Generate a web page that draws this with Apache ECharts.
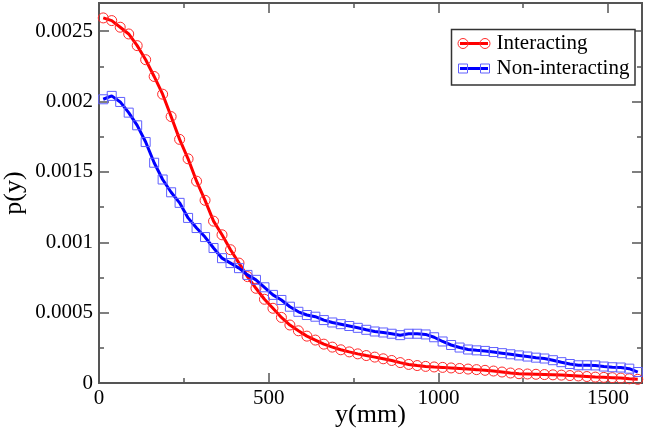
<!DOCTYPE html>
<html>
<head>
<meta charset="utf-8">
<script src="https://cdn.jsdelivr.net/npm/echarts@6/dist/echarts.min.js"></script>
<style>
html,body{margin:0;padding:0;background:#fff;}
#chart{width:646px;height:437px;}
</style>
</head>
<body>
<div id="chart"></div>
<script>
// x positions (mm), every 25 mm
const yPositions = [
  12.5, 37.5, 62.5, 87.5, 112.5, 137.5, 162.5, 187.5, 212.5, 237.5,
  262.5, 287.5, 312.5, 337.5, 362.5, 387.5, 412.5, 437.5, 462.5, 487.5,
  512.5, 537.5, 562.5, 587.5, 612.5, 637.5, 662.5, 687.5, 712.5, 737.5,
  762.5, 787.5, 812.5, 837.5, 862.5, 887.5, 912.5, 937.5, 962.5, 987.5,
  1012.5, 1037.5, 1062.5, 1087.5, 1112.5, 1137.5, 1162.5, 1187.5, 1212.5, 1237.5,
  1262.5, 1287.5, 1312.5, 1337.5, 1362.5, 1387.5, 1412.5, 1437.5, 1462.5, 1487.5,
  1512.5, 1537.5, 1562.5, 1587.5
];
const interacting = [
  0.002594, 0.002575, 0.002528, 0.00248, 0.002397, 0.002297, 0.002178, 0.002052, 0.001893, 0.001731,
  0.001593, 0.001434, 0.001298, 0.00115, 0.001053, 0.000947, 0.000852, 0.000756, 0.000673, 0.000595,
  0.000531, 0.000466, 0.000412, 0.000371, 0.000333, 0.000305, 0.000276, 0.000255, 0.000236, 0.000221,
  0.000207, 0.000195, 0.000184, 0.000172, 0.00016, 0.000145, 0.000132, 0.000124, 0.000118, 0.000114,
  0.000111, 0.000107, 0.000103, 0.000099, 0.000095, 0.00009, 0.000085, 0.000078, 0.000071, 0.000066,
  0.000064, 0.000062, 0.00006, 0.000058, 0.000056, 0.000053, 0.00005, 0.000046, 0.000042, 0.00004,
  0.000038, 0.000035, 0.00003, 0.000026
];
const nonInteracting = [
  0.002016, 0.00204, 0.001997, 0.001921, 0.001831, 0.001712, 0.001565, 0.001446, 0.001355, 0.00128,
  0.001173, 0.001101, 0.001037, 0.000959, 0.000887, 0.000852, 0.000816, 0.000768, 0.000733, 0.00068,
  0.000626, 0.00059, 0.000542, 0.000506, 0.000483, 0.000471, 0.000447, 0.00043, 0.000418, 0.000405,
  0.000392, 0.000378, 0.000366, 0.000359, 0.00035, 0.00034, 0.00035, 0.00035, 0.000345, 0.000325,
  0.000295, 0.00027, 0.000252, 0.000238, 0.000232, 0.000228, 0.00022, 0.000212, 0.000204, 0.000196,
  0.000188, 0.00018, 0.000174, 0.000162, 0.000148, 0.000135, 0.000126, 0.000126, 0.000125, 0.000117,
  0.000112, 0.00011, 0.000102, 0.000078
];
const seriesNames = ['Interacting', 'Non-interacting'];
const xTitle = 'y(mm)';
const yTitle = 'p(y)';

const FONT = '"Liberation Serif", "DejaVu Serif", serif';
const AX = '#555';

const chart = echarts.init(document.getElementById('chart'), null, {renderer: 'canvas'});

function xAx(pos, interval, len, labels) {
  return {
    type: 'value', position: pos, min: 0, max: 1600, interval: interval,
    axisLine: {show: true, onZero: false, lineStyle: {color: AX, width: 2}},
    axisTick: {show: true, inside: true, length: len, lineStyle: {color: AX, width: 1.5}},
    axisLabel: {show: labels, fontFamily: FONT, fontSize: 21, color: '#000', margin: 5, showMaxLabel: false,
                formatter: v => String(v)},
    splitLine: {show: false},
    name: labels ? xTitle : '', nameLocation: 'middle', nameGap: 19, nameMoveOverlap: false,
    nameTextStyle: {fontFamily: FONT, fontSize: 26, color: '#000'}
  };
}
function yAx(pos, interval, len, labels) {
  return {
    type: 'value', position: pos, min: 0, max: 0.0027, interval: interval,
    axisLine: {show: true, onZero: false, lineStyle: {color: AX, width: 2}},
    axisTick: {show: true, inside: true, length: len, lineStyle: {color: AX, width: 1.5}},
    axisLabel: {show: labels, fontFamily: FONT, fontSize: 21, color: '#000', margin: 6, showMaxLabel: false,
                formatter: v => String(Math.round(v * 100000) / 100000)},
    splitLine: {show: false},
    name: labels ? yTitle : '', nameLocation: 'middle', nameGap: 72, nameMoveOverlap: false,
    nameTextStyle: {fontFamily: FONT, fontSize: 26, color: '#000'}
  };
}

const option = {
  animation: false,
  backgroundColor: '#fff',
  grid: {left: 99, top: 3, right: 4, bottom: 54, containLabel: false, outerBoundsMode: 'none'},
  xAxis: [
    xAx('bottom', 500, 10, true),
    xAx('bottom', 250, 5, false),
    xAx('top', 500, 10, false),
    xAx('top', 250, 5, false)
  ],
  yAxis: [
    yAx('left', 0.0005, 10, true),
    yAx('left', 0.00025, 5, false),
    yAx('right', 0.0005, 10, false),
    yAx('right', 0.00025, 5, false)
  ],
  series: [
    {
      name: seriesNames[0], type: 'line', xAxisIndex: 0, yAxisIndex: 0,
      data: yPositions.map((x, i) => [x, interacting[i]]),
      symbol: 'circle', symbolSize: 10,
      lineStyle: {color: '#ff0000', width: 3},
      itemStyle: {color: 'rgba(0,0,0,0)', borderColor: '#ff2a2a', borderWidth: 1},
      z: 3
    },
    {
      name: seriesNames[1], type: 'line', xAxisIndex: 0, yAxisIndex: 0,
      data: yPositions.map((x, i) => [x, nonInteracting[i]]),
      symbol: 'rect', symbolSize: 9,
      lineStyle: {color: '#0000ff', width: 3},
      itemStyle: {color: 'rgba(0,0,0,0)', borderColor: '#6060ff', borderWidth: 1},
      z: 4
    }
  ],
  graphic: [
    {type: 'rect', shape: {x: 451.5, y: 29.5, width: 183.5, height: 55.5},
     style: {fill: '#fff', stroke: '#333', lineWidth: 1.5}, z: 10},
    {type: 'line', shape: {x1: 460, y1: 43.5, x2: 488, y2: 43.5}, style: {stroke: '#ff0000', lineWidth: 3}, z: 11},
    {type: 'circle', shape: {cx: 463, cy: 43.5, r: 5}, style: {fill: 'none', stroke: '#ff2a2a', lineWidth: 1}, z: 12},
    {type: 'circle', shape: {cx: 485, cy: 43.5, r: 5}, style: {fill: 'none', stroke: '#ff2a2a', lineWidth: 1}, z: 12},
    {type: 'text', style: {x: 496.5, y: 43.5, text: seriesNames[0], font: '21px ' + FONT, fill: '#000', verticalAlign: 'middle', align: 'left'}, z: 12},
    {type: 'line', shape: {x1: 460, y1: 68.5, x2: 488, y2: 68.5}, style: {stroke: '#0000ff', lineWidth: 3}, z: 11},
    {type: 'rect', shape: {x: 458.5, y: 64, width: 9, height: 9}, style: {fill: 'none', stroke: '#6060ff', lineWidth: 1}, z: 12},
    {type: 'rect', shape: {x: 480.5, y: 64, width: 9, height: 9}, style: {fill: 'none', stroke: '#6060ff', lineWidth: 1}, z: 12},
    {type: 'text', style: {x: 496.5, y: 68.5, text: seriesNames[1], font: '21px ' + FONT, fill: '#000', verticalAlign: 'middle', align: 'left'}, z: 12}
  ]
};
chart.setOption(option);
</script>
</body>
</html>
